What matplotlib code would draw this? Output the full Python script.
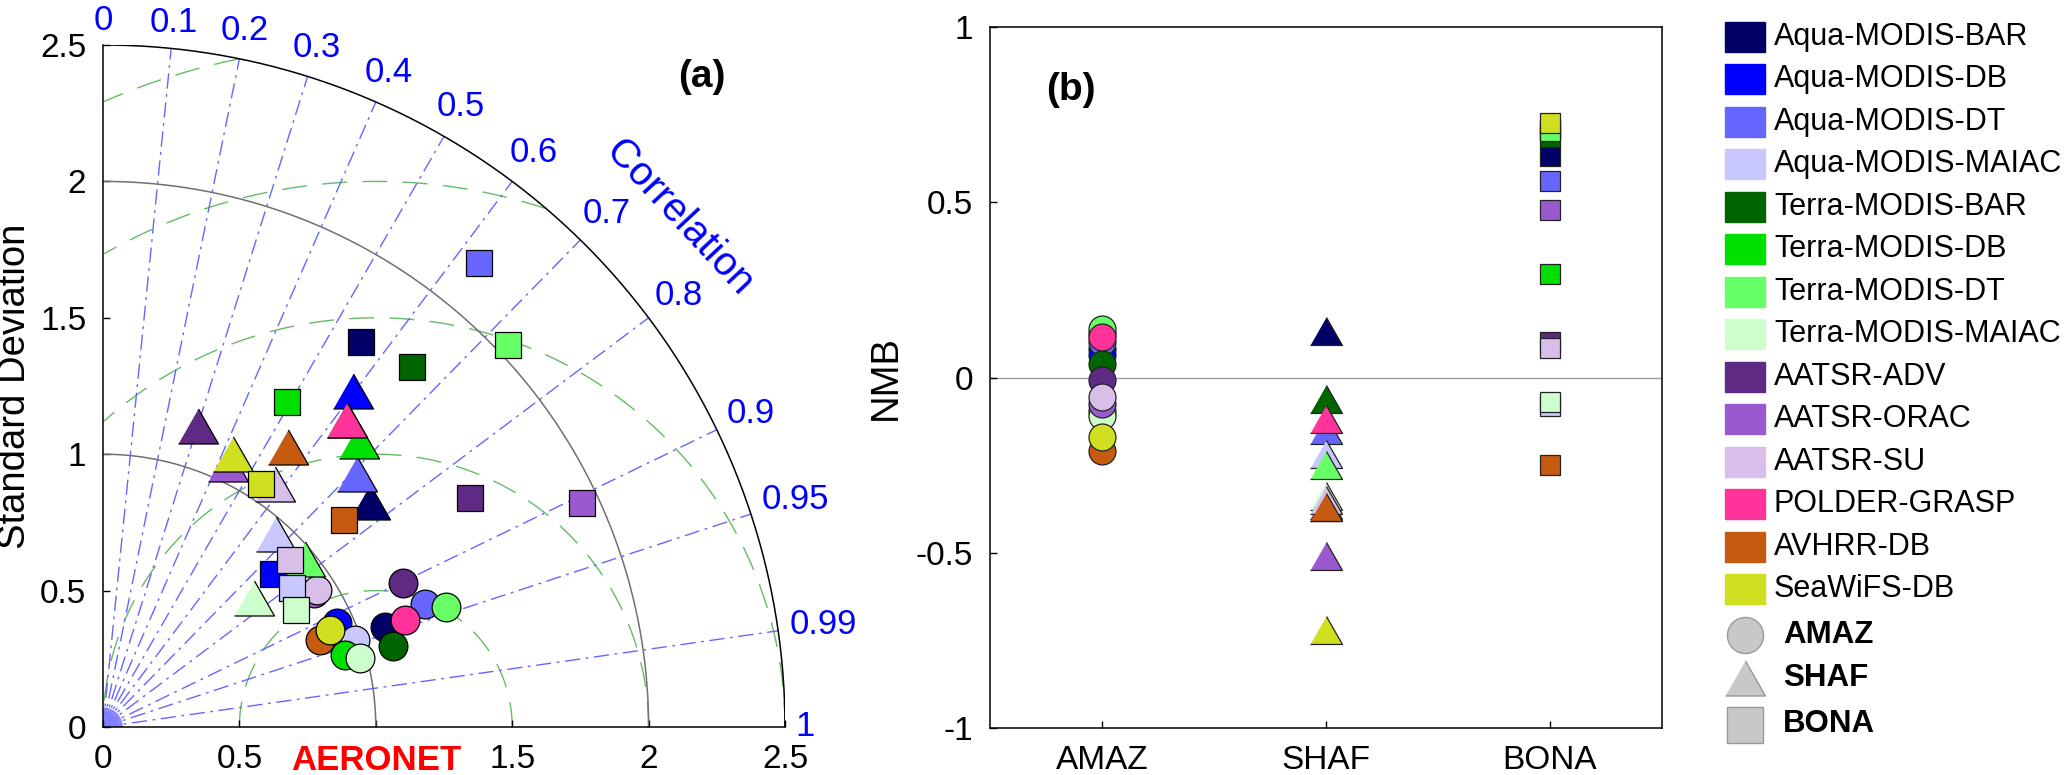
import numpy as np
import matplotlib
matplotlib.use('Agg')
import matplotlib.pyplot as plt
from matplotlib.patches import Rectangle

plt.rcParams['font.family'] = ['Liberation Sans', 'DejaVu Sans']

products = ['Aqua-MODIS-BAR', 'Aqua-MODIS-DB', 'Aqua-MODIS-DT', 'Aqua-MODIS-MAIAC',
            'Terra-MODIS-BAR', 'Terra-MODIS-DB', 'Terra-MODIS-DT', 'Terra-MODIS-MAIAC',
            'AATSR-ADV', 'AATSR-ORAC', 'AATSR-SU', 'POLDER-GRASP', 'AVHRR-DB', 'SeaWiFS-DB']
colors = ['#000066', '#0000FF', '#6666FF', '#C8C8FF',
          '#006400', '#00E000', '#66FF66', '#CCFFCC',
          '#5E2A84', '#9B59CF', '#D8BEE8', '#FF3399', '#C55A11', '#D0E020']
regions = ['AMAZ', 'SHAF', 'BONA']

# Taylor diagram: normalised standard deviation and correlation vs AERONET
std_amaz = [1.096, 0.937, 1.263, 0.977, 1.104, 0.925, 1.331, 0.974, 1.219, 0.917, 0.930, 1.174, 0.857, 0.906]
cor_amaz = [0.942, 0.914, 0.934, 0.945, 0.963, 0.958, 0.944, 0.966, 0.902, 0.845, 0.842, 0.942, 0.928, 0.920]
std_shaf = [1.280, 1.534, 1.315, 0.950, 1.436, 1.406, 0.964, 0.729, 1.157, 1.069, 1.092, 1.436, 1.228, 1.109]
cor_shaf = [0.764, 0.597, 0.709, 0.667, 0.622, 0.667, 0.768, 0.760, 0.300, 0.430, 0.579, 0.622, 0.551, 0.430]
std_bona = [1.698, 0.839, 2.190, 0.858, 1.740, 1.369, 2.040, 0.827, 1.587, 1.940, 0.920, np.nan, 1.163, 1.064]
cor_bona = [0.557, 0.744, 0.629, 0.806, 0.651, 0.492, 0.728, 0.854, 0.848, 0.906, 0.747, np.nan, 0.759, 0.546]

# normalised mean bias
nmb_amaz = [0.080, 0.065, 0.101, -0.095, 0.038, 0.125, 0.137, -0.111, -0.008, -0.077, -0.057, 0.115, -0.209, -0.170]
nmb_shaf = [0.133, -0.370, -0.150, -0.219, -0.060, -0.370, -0.251, -0.337, -0.365, -0.510, -0.349, -0.118, -0.369, -0.720]
nmb_bona = [0.632, 0.705, 0.561, -0.080, 0.686, 0.296, 0.703, -0.069, 0.101, 0.479, 0.084, np.nan, -0.251, 0.726]

corr_ticks = [0.1, 0.2, 0.3, 0.4, 0.5, 0.6, 0.7, 0.8, 0.9, 0.95, 0.99]
corr_labels = ['0', '0.1', '0.2', '0.3', '0.4', '0.5', '0.6', '0.7', '0.8', '0.9', '0.95', '0.99', '1']
std_ticks = [0, 0.5, 1, 1.5, 2, 2.5]
std_xticklabels = ['0', '0.5', 'AERONET', '1.5', '2', '2.5']
std_yticklabels = ['0', '0.5', '1', '1.5', '2', '2.5']
nmb_ticks = [-1, -0.5, 0, 0.5, 1]
nmb_ticklabels = ['-1', '-0.5', '0', '0.5', '1']

W, H = 2067, 775
fig = plt.figure(figsize=(W / 100, H / 100), dpi=100)


def box(l, t, r, b):
    return [l / W, 1 - b / H, (r - l) / W, (b - t) / H]


tri = [(-1, -0.875), (1, -0.875), (0, 0.875)]
FS = 24
FS_CORR = 25

# ---------------- (a) Taylor diagram ----------------
ax = fig.add_axes(box(103, 45, 785, 727))
ax.set_xlim(0, 2.5)
ax.set_ylim(0, 2.5)
for s in ['top', 'right']:
    ax.spines[s].set_visible(False)
for s in ['left', 'bottom']:
    ax.spines[s].set_linewidth(1.1)

th = np.linspace(0, np.pi / 2, 400)
ax.plot(2.5 * np.cos(th), 2.5 * np.sin(th), color='k', lw=1.1, zorder=2)
for r in (1, 2):
    ax.plot(r * np.cos(th), r * np.sin(th), color='#707070', lw=1.1, zorder=2)

# centred RMS difference arcs around the reference point
t = np.linspace(0, np.pi, 800)
for rr in (0.5, 1, 1.5, 2, 2.5):
    x = 1 + rr * np.cos(t)
    y = rr * np.sin(t)
    m = (x ** 2 + y ** 2 > 2.5 ** 2) | (x < 0)
    x[m] = np.nan
    y[m] = np.nan
    ax.plot(x, y, color='#66BB66', lw=1, ls=(0, (18, 11)), zorder=1)

# correlation rays
for c in corr_ticks:
    a = np.arccos(c)
    ax.plot([0, 2.5 * c], [0, 2.5 * np.sin(a)], color='#6666FF', lw=1,
            ls=(0, (11, 4, 2, 4)), zorder=1)
for a in np.linspace(np.radians(2), np.radians(88), 30):
    ax.plot([0, 0.07 * np.cos(a)], [0, 0.07 * np.sin(a)], color='#8080FF', lw=0.8, zorder=1)

# correlation labels
corr_vals = [0] + corr_ticks + [1]
for c, lab in zip(corr_vals, corr_labels):
    a = np.arccos(c)
    w = sum(0.278 if ch == '.' else 0.556 for ch in lab) * FS_CORR * 100 / 72
    d = 10 + 0.5 * w * np.cos(a) + 14 * np.sin(a)
    ax.annotate(lab, (2.5 * np.cos(a), 2.5 * np.sin(a)),
                xytext=(d * np.cos(a) * 0.72, d * np.sin(a) * 0.72),
                textcoords='offset points', ha='center', va='center',
                color='#0000FF', fontsize=FS_CORR, annotation_clip=False)
ax.text(2.112, 1.868, 'Correlation', color='#0000FF', fontsize=29, rotation=-47,
        rotation_mode='anchor', ha='center', va='center')

# points: circles, then triangles, then squares
taylor = [(std_amaz, cor_amaz, 'o', 20.7), (std_shaf, cor_shaf, tri, 28.8),
          (std_bona, cor_bona, 's', 19.2)]
for std, cor, mk, ms in taylor:
    for i in range(len(products)):
        if np.isnan(std[i]):
            continue
        x = std[i] * cor[i]
        y = std[i] * np.sqrt(1 - cor[i] ** 2)
        ax.plot(x, y, marker=mk, ms=ms, mfc=colors[i], mec='k', mew=0.9,
                ls='none', zorder=4, clip_on=False)

ax.set_xticks(std_ticks)
ax.set_xticklabels(std_xticklabels)
ax.set_yticks(std_ticks)
ax.set_yticklabels(std_yticklabels)
ax.tick_params(direction='in', length=5, width=1, labelsize=FS, pad=12)
lab = ax.get_xticklabels()[2]
lab.set_color('#FF0000')
lab.set_fontweight('bold')
lab.set_fontsize(25)
ax.text(-0.129, 0.5, 'Standard Deviation', transform=ax.transAxes, rotation=90,
        ha='center', va='center', fontsize=27.5)

# ---------------- (b) NMB ----------------
ax2 = fig.add_axes(box(990, 27, 1662, 728))
ax2.set_xlim(0.5, 3.5)
ax2.set_ylim(-1, 1)
ax2.axhline(0, color='#A0A0A0', lw=1, zorder=1)
nmb_sets = [(nmb_amaz, 'o', 19.4), (nmb_shaf, tri, 23), (nmb_bona, 's', 15)]
for k, (vals, mk, ms) in enumerate(nmb_sets):
    for i in range(len(products)):
        if np.isnan(vals[i]):
            continue
        ax2.plot(k + 1, vals[i], marker=mk, ms=ms, mfc=colors[i], mec='#222222',
                 mew=0.9, ls='none', zorder=3)
for s in ax2.spines.values():
    s.set_linewidth(1.1)
ax2.set_xticks([1, 2, 3])
ax2.set_xticklabels(regions)
ax2.set_yticks(nmb_ticks)
ax2.set_yticklabels(nmb_ticklabels)
ax2.tick_params(direction='in', length=5, width=1, labelsize=FS, pad=12)
ax2.text(-0.155, 0.5, 'NMB', transform=ax2.transAxes, rotation=90,
         ha='center', va='center', fontsize=27.5)

# ---------------- overlay: panel tags and legend ----------------
ov = fig.add_axes([0, 0, 1, 1])
ov.set_xlim(0, W)
ov.set_ylim(H, 0)
ov.axis('off')
ov.text(702, 77, '(a)', ha='center', va='center', fontsize=28, fontweight='bold')
ov.text(1071, 90, '(b)', ha='center', va='center', fontsize=28, fontweight='bold')

for i, (name, col) in enumerate(zip(products, colors)):
    yc = 36.7 + 42.5 * i
    ov.add_patch(Rectangle((1725, yc - 15), 40, 30, fc=col, ec=col, lw=1))
    ov.text(1774, yc, name, fontsize=22, ha='left', va='center')

reg_leg = [('o', 26, 635), (tri, 28.8, 677.5), ('s', 26, 724.5)]
for name, (mk, ms, yc) in zip(regions, reg_leg):
    ov.plot(1745, yc, marker=mk, ms=ms, mfc='#C8C8C8', mec='#999999', mew=1, ls='none')
    ov.text(1783, yc, name, fontsize=22.5, fontweight='bold', ha='left', va='center')

fig.savefig('out.png', dpi=100)
